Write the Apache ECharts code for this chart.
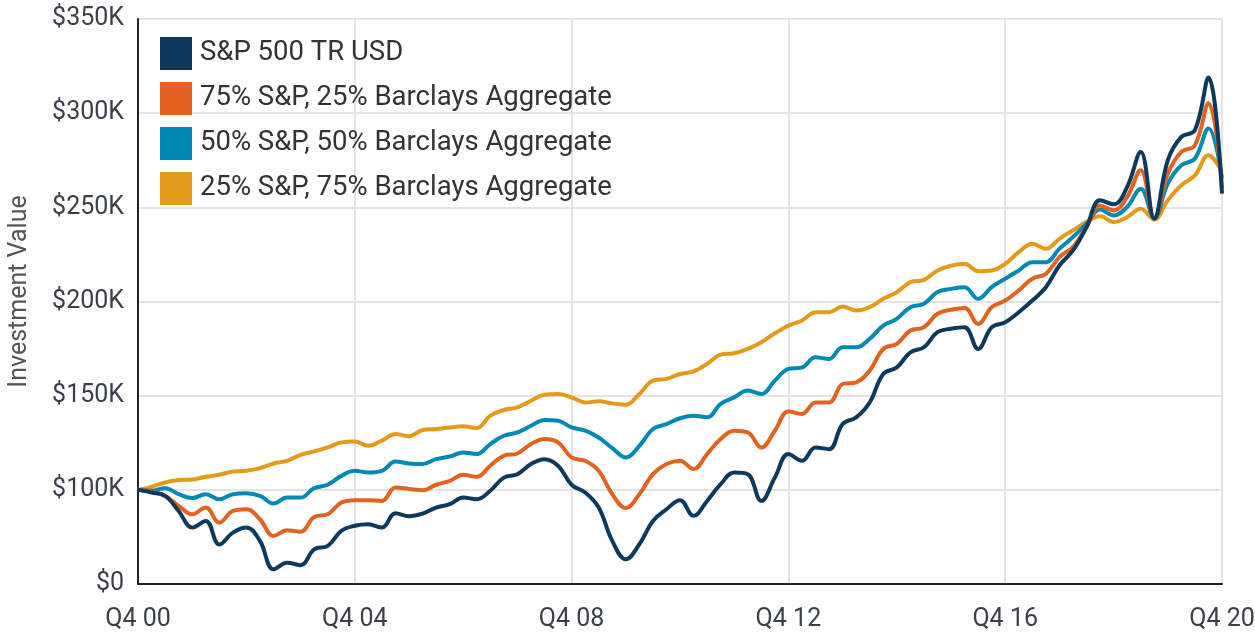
<!DOCTYPE html>
<html>
<head>
<meta charset="utf-8">
<script src="https://cdn.jsdelivr.net/npm/echarts@6/dist/echarts.min.js"></script>
<style>
  html, body { margin: 0; padding: 0; background: #fff; }
  #chart-container { width: 1255px; height: 635px; }
</style>
</head>
<body>
<div id="chart-container"></div>
<script>
// Quarter labels, Q4 00 .. Q4 20
const quarters = [];
for (let y = 0; y <= 20; y++) {
  for (let q = 1; q <= 4; q++) {
    if (y === 0 && q < 4) continue;
    quarters.push('Q' + q + ' ' + String(y).padStart(2, '0'));
  }
}

// Values in $K
const sp500 = [100, 98.6, 96.8, 88.8, 80, 83.5, 71, 77.3, 80, 72.9,
  57.8, 61.3, 60, 68.4, 70.2, 78.2, 80.9, 81.7, 80, 87.6,
  86, 87.4, 90.6, 92.4, 95.9, 95, 99.5, 106.5, 108.3, 113.7,
  116.3, 112.8, 102.7, 98.6, 90.6, 72.9, 63.1, 71.1, 83.5, 89.7,
  94.5, 86.2, 94.1, 103, 109.2, 108.3, 94.1, 106.5, 119, 115.4,
  122.5, 121.6, 134.9, 138.5, 146.4, 161.5, 165, 173, 175.7, 183.7,
  185.5, 186.3, 174.8, 186.3, 189, 194.3, 200.5, 207.6, 219.1, 227.1,
  239.5, 253.7, 251.6, 260.8, 279.4, 244, 275, 287.4, 291, 319, 257.3];

const mix75 = [100, 99, 96.8, 91.5, 87, 90.6, 82.6, 88.8, 89.7, 84.4,
  75.5, 78.5, 77.8, 85.6, 87, 93.2, 94.5, 94.5, 94.1, 101.2,
  100.5, 99.8, 102.7, 104.8, 108, 106.9, 112.8, 118.1, 119.3, 124.3,
  127, 125.2, 117.2, 115.4, 110.1, 97.7, 90.3, 97.7, 108.3, 113.7,
  115.5, 111, 119, 127, 131.4, 130.5, 122.5, 131.4, 141.6, 140.3,
  146.4, 146.4, 156.2, 157.1, 163.3, 174.8, 177.5, 184.6, 186.3, 193.5,
  195.6, 196.6, 188.1, 197, 200.5, 205.9, 212.1, 214.7, 223.6, 228.9,
  239.5, 251, 248.4, 255.5, 269.7, 244.5, 267.9, 279.4, 283, 305.2, 260];

const mix50 = [100, 99.5, 100.9, 97.7, 95.6, 97.7, 95, 97.7, 98.2, 96.8,
  92.7, 95.9, 95.9, 100.9, 102.7, 107.4, 110.1, 109.2, 110.1, 115,
  114, 113.7, 116.3, 117.7, 119.8, 119, 124.3, 128.7, 130.5, 134,
  137.1, 136.7, 133.1, 131.4, 127.8, 122.2, 117.2, 123.4, 132.3, 134.9,
  138, 139.4, 138.5, 145.6, 149.1, 152.7, 150.9, 158, 164.2, 165,
  170.4, 169.5, 175.7, 175.7, 180.2, 187.2, 190.8, 197, 198.8, 205,
  206.7, 207.6, 201.4, 207.6, 212.1, 216.5, 220.9, 220.9, 228, 234.2,
  241.3, 248.8, 245.7, 250.2, 259.9, 244.5, 262.6, 272.3, 275.9, 291.9, 265.3];

const mix25 = [100, 101.6, 103.9, 105.2, 105.5, 106.9, 108, 109.7, 110.1, 111.5,
  114, 115.4, 118.6, 120.4, 122.5, 125.2, 125.7, 123.4, 126.1, 129.6,
  128.5, 131.8, 132.3, 133.1, 133.7, 132.8, 139.4, 142.4, 143.8, 147.3,
  150.5, 150.9, 149.1, 146.4, 147, 145.9, 145.2, 150.9, 158, 158.9,
  161.5, 162.9, 166.9, 171.8, 172.5, 174.8, 178.4, 183.1, 187.2, 189.9,
  194.3, 194.3, 197.3, 195.2, 197, 201.4, 205, 210.3, 211.5, 216.5,
  219, 220, 216.1, 216.5, 220, 226.2, 230.7, 228, 233.3, 237.8,
  242.2, 245.2, 242.2, 244.8, 249.3, 243.5, 253.7, 261.7, 267, 277.7, 268.8];

const seriesNames = ['S&P 500 TR USD', '75% S&P, 25% Barclays Aggregate',
  '50% S&P, 50% Barclays Aggregate', '25% S&P, 75% Barclays Aggregate'];
const seriesData = [sp500, mix75, mix50, mix25];
const colors = ['#0d3a5c', '#e2621f', '#0089b3', '#e49b1a'];

const chartContainer = document.getElementById('chart-container');
const myChart = echarts.init(chartContainer);

const fontFamily = 'Roboto, "Noto Sans", sans-serif';

const option = {
  animation: false,
  color: colors,
  legend: {
    data: seriesNames,
    orient: 'vertical',
    left: 155,
    top: 32,
    icon: 'rect',
    itemWidth: 32,
    itemHeight: 33,
    itemGap: 12,
    textStyle: {
      color: '#333',
      fontSize: 27.5,
      fontFamily: fontFamily,
      padding: [0, 0, 0, 3]
    }
  },
  grid: {
    left: 138,
    right: 33,
    top: 19,
    bottom: 51,
    outerBoundsMode: 'none'
  },
  xAxis: {
    type: 'category',
    boundaryGap: false,
    data: quarters,
    axisLine: { lineStyle: { color: '#222', width: 2 } },
    axisTick: { show: false },
    axisLabel: {
      interval: 15,
      color: '#3a3f4a',
      fontSize: 25,
      fontFamily: fontFamily,
      margin: 23
    },
    splitLine: {
      show: true,
      interval: 15,
      lineStyle: { color: '#e4e4e4', width: 2 }
    }
  },
  yAxis: {
    type: 'value',
    min: 50,
    max: 350,
    interval: 50,
    name: 'Investment Value',
    nameLocation: 'middle',
    nameGap: 106,
    nameTextStyle: {
      color: '#555',
      fontSize: 25,
      fontFamily: fontFamily,
      padding: [0, 0, 0, 20]
    },
    axisLine: { show: true, lineStyle: { color: '#222', width: 2 } },
    axisTick: { show: false },
    axisLabel: {
      color: '#3a3f4a',
      fontSize: 25,
      fontFamily: fontFamily,
      margin: 14,
      formatter: function (v) { return v === 50 ? '$0' : '$' + v + 'K'; }
    },
    splitLine: { lineStyle: { color: '#e4e4e4', width: 2 } }
  },
  series: seriesNames.map(function (name, i) {
    return {
      name: name,
      type: 'line',
      data: seriesData[i],
      smooth: 0.4,
      showSymbol: false,
      lineStyle: { width: 4, color: colors[i] },
      itemStyle: { color: colors[i] },
      z: 10 - i
    };
  })
};

myChart.setOption(option);
</script>
</body>
</html>
